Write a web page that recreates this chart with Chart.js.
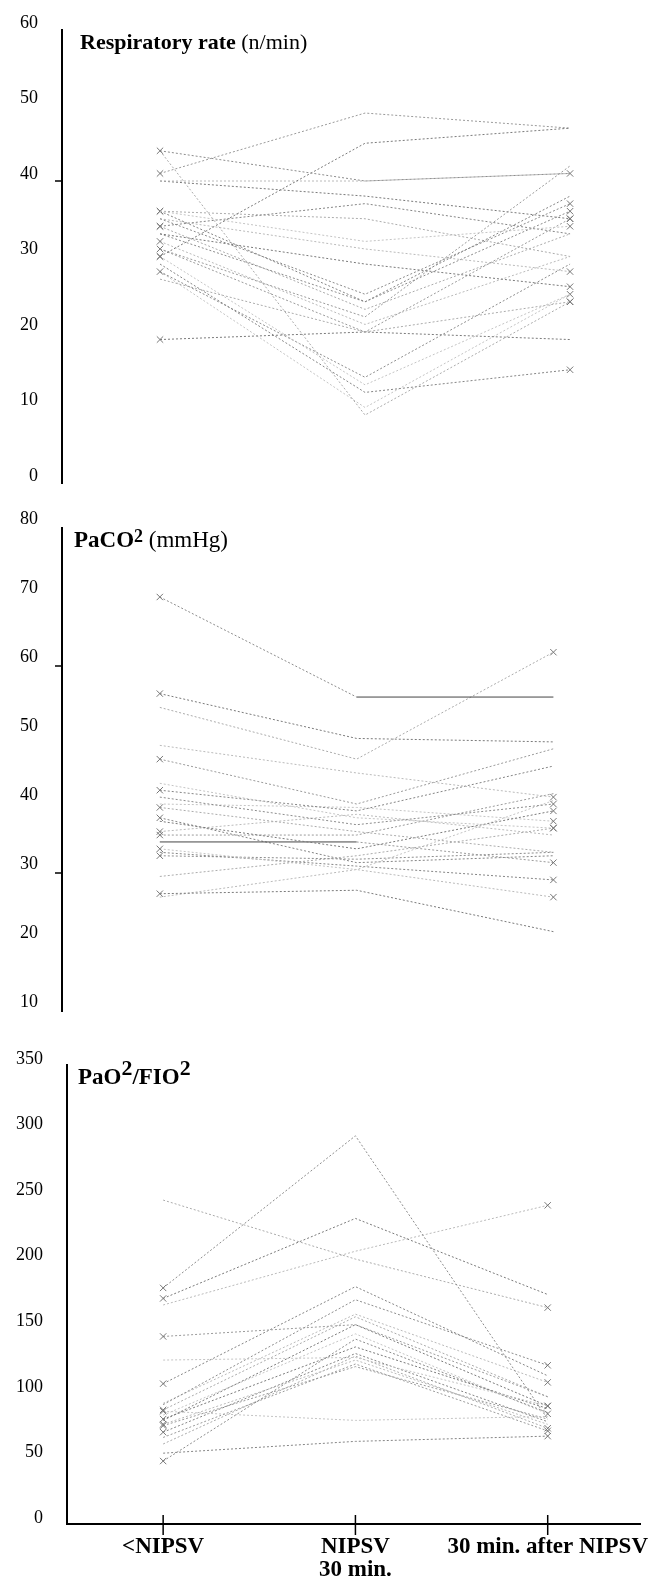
<!DOCTYPE html>
<html>
<head>
<meta charset="utf-8">
<script src="https://cdn.jsdelivr.net/npm/chart.js@4.4.0/dist/chart.umd.min.js"></script>
<style>
  html, body { margin: 0; padding: 0; background: #fff; }
  #page { position: relative; width: 669px; height: 1576px; overflow: hidden; }
  .panel { position: absolute; left: 0; width: 669px; }
  .title { position: absolute; font-family: 'Liberation Serif', serif; color: #000; white-space: nowrap; }
  .title sup { line-height: 0; }
  #t1 { left: 80px; top: 31px; font-size: 22px; line-height: 22px; }
  #t2 { left: 74px; top: 528px; font-size: 23px; line-height: 23px; }
  #t2 sup { font-size: 0.78em; vertical-align: 0.28em; }
  #t3 { left: 78px; top: 1065px; font-size: 23px; line-height: 23px; }
  #t3 sup { font-size: 0.95em; vertical-align: 0.42em; }
</style>
</head>
<body>
<div id="page">
  <!-- canvases overlap a little: Chart.js keeps room for the end labels plus tick padding -->
  <div class="panel" style="top:-10px;height:535px"><canvas id="rr"></canvas></div>
  <div class="panel" style="top:488px;height:565px"><canvas id="co2"></canvas></div>
  <div class="panel" style="top:1024px;height:552px"><canvas id="pf"></canvas></div>
  <div class="title" id="t1"><b>Respiratory rate</b> (n/min)</div>
  <div class="title" id="t2"><b>PaCO<sup>2</sup></b> (mmHg)</div>
  <div class="title" id="t3"><b>PaO<sup>2</sup>/FIO<sup>2</sup></b></div>
</div>
<script>
// time points (x categories)
const timepoints = ['<NIPSV', ['NIPSV', '30 min.'], '30 min. after NIPSV'];

// respiratory rate, n/min, one entry per patient
const rrTicks = [0, 10, 20, 30, 40, 50, 60];
const rrBefore = [44, 44, 30, 40, 41, 36, 36, 35, 34, 33, 32, 31, 30, 29, 28, 27, 19, 35, 31, 28, 34, 33, 36, 40];
const rrDuring = [40, 9, 45, 40, 49, 32, 24, 25, 23, 29, 21, 20, 13, 12, 14, 20, 20, 31, 22, 10, 37, 24, 35, 38];
const rrAfter = [41, 24, 47, 41, 47, 34, 38, 37, 33, 26, 30, 35, 25, 15, 29, 24, 19, 28, 42, 25, 33, 36, 30, 35];

// PaCO2, mmHg
const co2Ticks = [10, 20, 30, 40, 50, 60, 70, 80];
const co2Before = [70, 54, 56, 48.5, 46.5, 43, 42, 41, 39.5, 37.5, 36, 34.5, 33.5, 33, 32.5, 29.5, 27, 26.5, 35.5, 40, 38];
const co2During = [55.5, 46.5, 49.5, 44.5, 40, 38, 39, 37, 36, 33.5, 38.5, 34.5, 30.5, 31, 32, 32.5, 27.5, 30.5, 35.5, 39.5, 31.5];
const co2After = [55.5, 62, 49, 41, 48, 36.5, 45.5, 40, 33, 39, 35.5, 31.5, 40.5, 29, 33, 36.5, 21.5, 26.5, 41.5, 37.5, 32.5];

// PaO2/FIO2
const pfTicks = [0, 50, 100, 150, 200, 250, 300, 350];
const pfBefore = [180, 247, 172, 167, 143, 125, 107, 91, 87, 79, 76, 66, 86, 54, 48, 61, 80, 92, 75, 83, 70];
const pfDuring = [296, 202, 233, 208, 152, 127, 181, 171, 158, 152, 125, 122, 79, 63, 141, 128, 135, 160, 120, 145, 130];
const pfAfter = [80, 165, 175, 243, 97, 90, 113, 121, 97, 90, 76, 71, 82, 67, 85, 73, 88, 108, 80, 84, 78];

const shades = ['#8c8c8c', '#ababab', '#7a7a7a', '#bababa', '#9a9a9a', '#c4c4c4', '#858585'];
const serif = 'Liberation Serif';

// small outside tick marks on the y axis, crossing marks on the x axis
const marks = {
    id: 'marks',
    afterDraw(chart, args, opts) {
        const ctx = chart.ctx
        const ys = chart.scales.y
        const xs = chart.scales.x
        ctx.save()
        ctx.strokeStyle = '#000'
        ctx.lineWidth = 1.5
        for (let v of (opts.y || [])) {
            const py = ys.getPixelForValue(v)
            ctx.beginPath(); ctx.moveTo(ys.right - 7, py); ctx.lineTo(ys.right, py); ctx.stroke()
        }
        if (opts.x) {
            for (let t of xs.ticks) {
                const px = xs.getPixelForValue(t.value)
                ctx.beginPath(); ctx.moveTo(px, xs.top - 9); ctx.lineTo(px, xs.top + 11); ctx.stroke()
            }
        }
        ctx.restore()
    }
};

function panel(id, p) {
    const datasets = p.before.map((b, i) => {
        const solid = p.solid[i];
        return {
            data: [b, p.during[i], p.after[i]].map((v, k) => ({ x: k, y: v })),
            borderColor: shades[i % shades.length],
            borderWidth: 1,
            borderDash: [2, 2],
            segment: solid === undefined ? {} : {
                borderDash: c => c.p0DataIndex === solid ? [] : [2, 2],
                borderColor: c => c.p0DataIndex === solid ? '#444' : shades[i % shades.length],
            },
            pointStyle: 'crossRot',
            pointRadius: c => ((c.datasetIndex * 2 + c.dataIndex) % 4 === 0 ? 4.5 : 0),
            pointBorderColor: '#777',
            pointBorderWidth: 1,
            fill: false,
        };
    });

    // the x axis is only drawn under the last panel; elsewhere it takes no room
    const xAxis = {
        type: 'linear', min: p.xMin, max: p.xMax,
        afterBuildTicks: s => { s.ticks = timepoints.map((_, i) => ({ value: i })) },
        afterFit: s => { s.height = p.xHeight },
        grid: { display: false, drawTicks: false },
        border: { display: p.showX, color: '#000', width: 2 },
        ticks: {
            display: p.showX,
            color: '#000', padding: 12, maxRotation: 0, autoSkip: false,
            callback: v => timepoints[v],
            font: { family: serif, size: 23, weight: 'bold', lineHeight: 1 }
        }
    };

    return new Chart(document.getElementById(id), {
        type: 'line',
        data: { datasets: datasets },
        options: {
            responsive: true,
            maintainAspectRatio: false,
            animation: false,
            events: [],
            layout: { padding: { top: p.padTop, bottom: p.padBottom, left: 0, right: 29 } },
            scales: {
                x: xAxis,
                y: {
                    min: p.ticks[0], max: p.ticks[p.ticks.length - 1],
                    afterBuildTicks: s => { s.ticks = p.ticks.map(v => ({ value: v })) },
                    afterFit: s => { s.width = p.axisX },
                    grid: { display: false, drawTicks: false },
                    border: { display: true, color: '#000', width: 2 },
                    ticks: { color: '#000', padding: 24, labelOffset: p.labelShift, font: { family: serif, size: 18 } }
                }
            },
            plugins: {
                legend: { display: false },
                tooltip: { enabled: false },
                marks: { y: p.yMarks, x: p.showX }
            }
        },
        plugins: [marks]
    });
}

// canvas rr: page y -10..525, plot area 30..483
panel('rr', {
    before: rrBefore, during: rrDuring, after: rrAfter, ticks: rrTicks, solid: {},
    xMin: -0.478, xMax: 2.341, axisX: 62, padTop: 40, padBottom: 42, labelShift: -7, yMarks: [40],
    showX: false, xHeight: 0
});
// canvas co2: page y 488..1053, plot area 528..1011
panel('co2', {
    before: co2Before, during: co2During, after: co2After, ticks: co2Ticks, solid: { 0: 1, 11: 0 },
    xMin: -0.497, xMax: 2.44, axisX: 62, padTop: 40, padBottom: 42, labelShift: -9, yMarks: [60, 30],
    showX: false, xHeight: 0
});
// canvas pf: page y 1024..1576, plot area 1065..1524
panel('pf', {
    before: pfBefore, during: pfDuring, after: pfAfter, ticks: pfTicks, solid: {},
    xMin: -0.5, xMax: 2.48, axisX: 67, padTop: 41, padBottom: 0, labelShift: -6, yMarks: [],
    showX: true, xHeight: 52
});
</script>
</body>
</html>
